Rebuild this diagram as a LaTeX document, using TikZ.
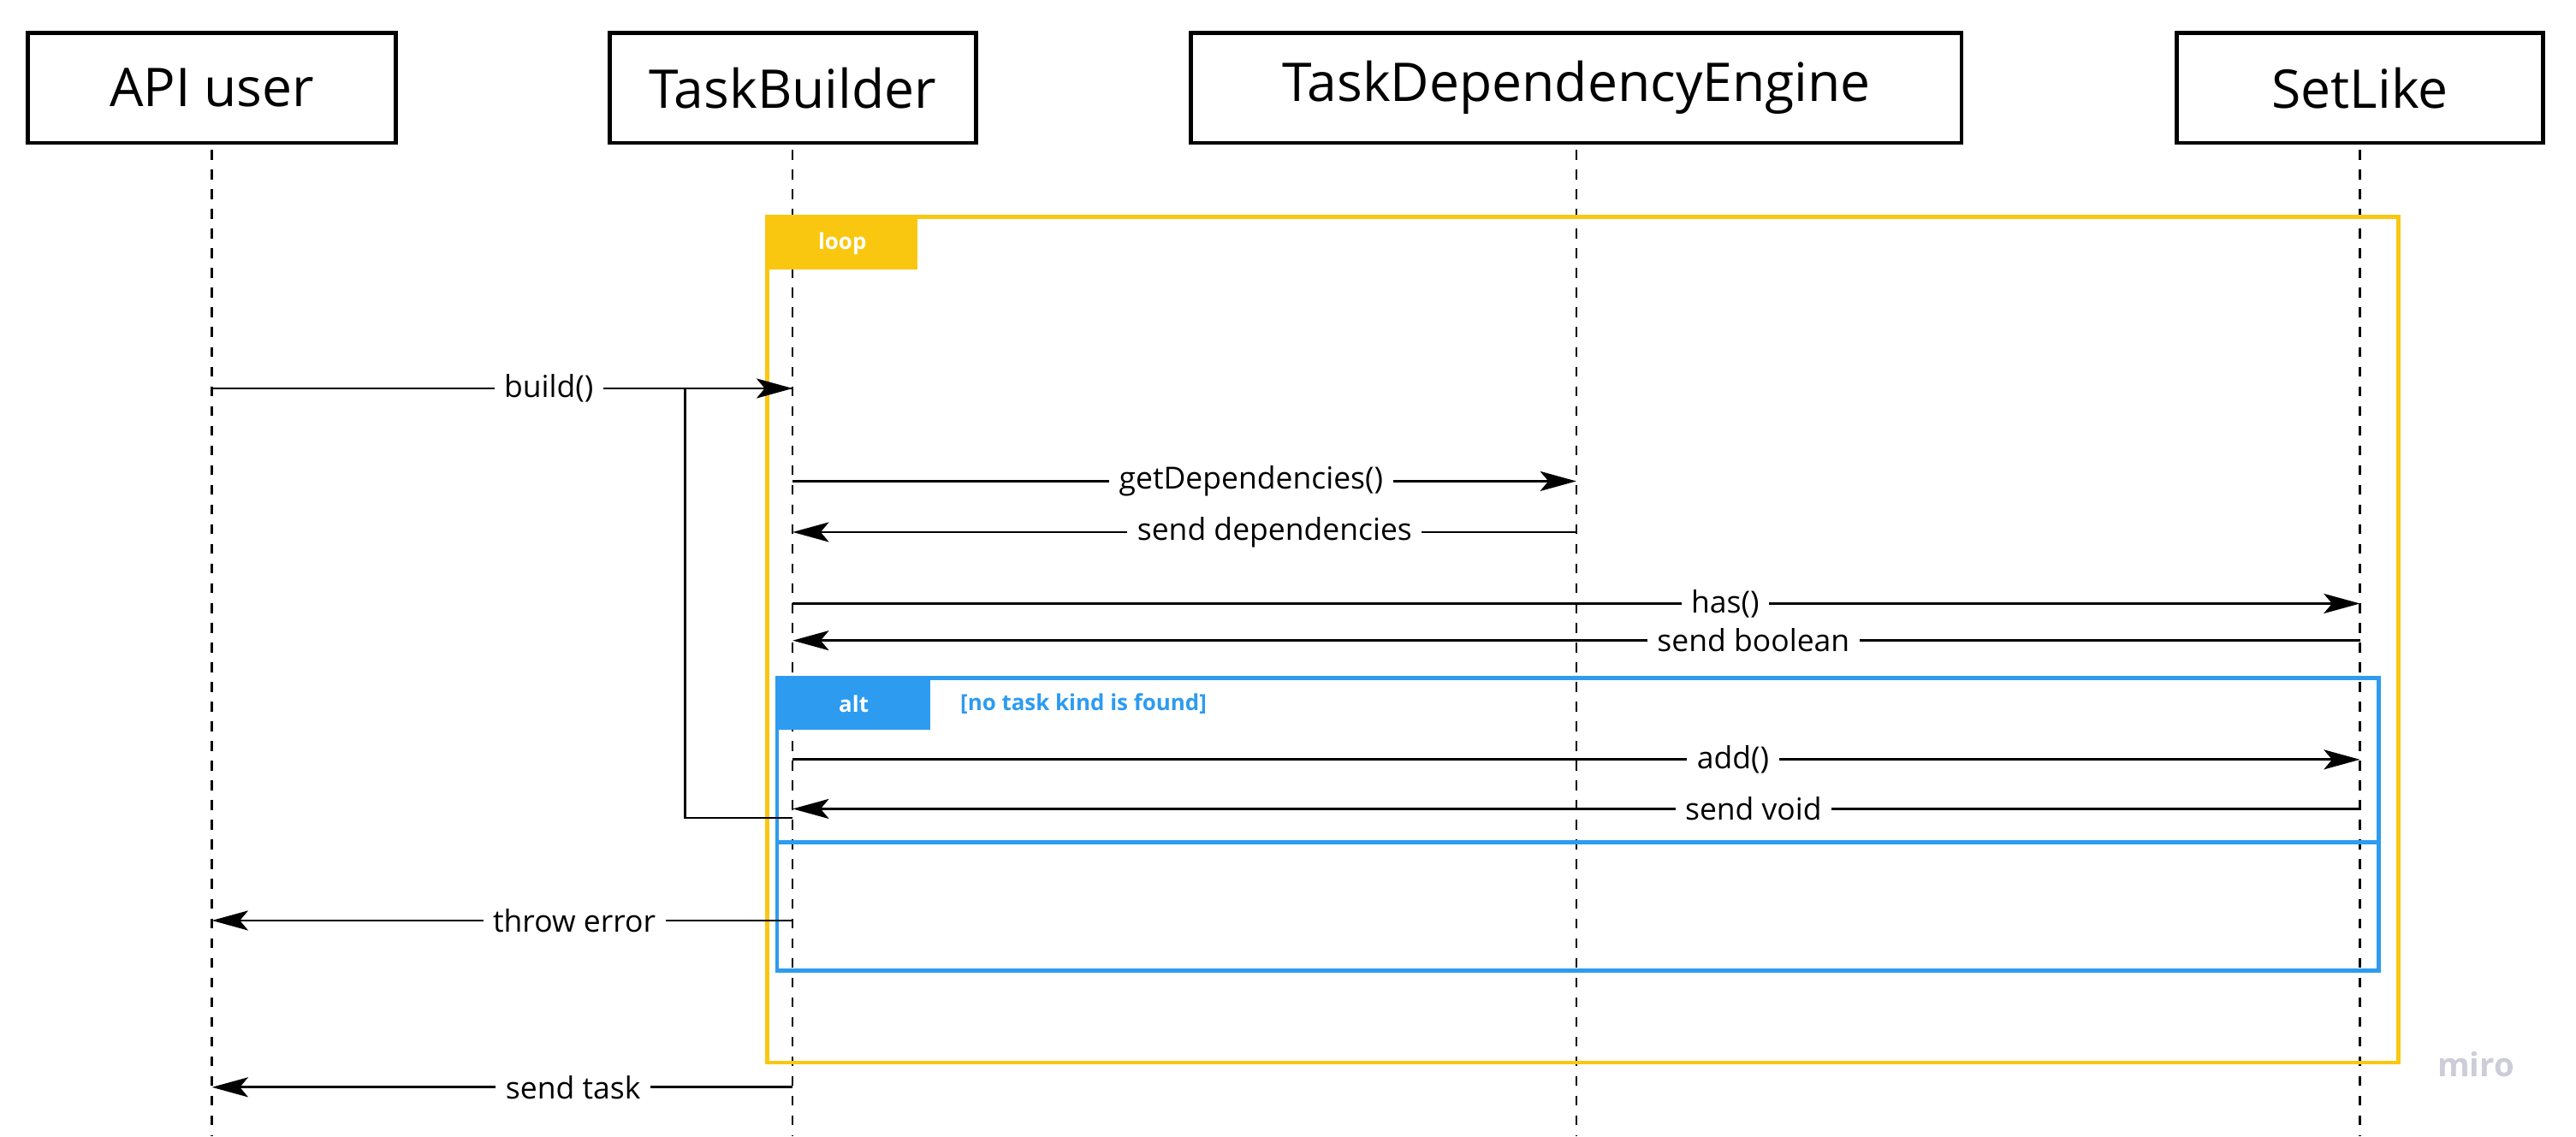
\documentclass[tikz,border=0pt]{standalone}
\usepackage{fontspec}
\setmainfont{Open Sans}
\usepackage{xcolor}
\usetikzlibrary{positioning,arrows.meta}
\definecolor{loopyellow}{HTML}{FAC710}
\definecolor{altblue}{HTML}{2D9BF0}
\definecolor{mirogray}{HTML}{CDCCD9}

\tikzset{
  actor/.style={draw, line width=2.5pt, minimum height=67pt, inner sep=0pt, font=\fontsize{32.5}{38}\selectfont},
  lifeline/.style={line width=1.2pt, dash pattern=on 6pt off 6pt},
  msg/.style={line width=1.5pt, -{Stealth[length=22pt,width=12pt,inset=5pt]}},
  lbl/.style={fill=white, inner xsep=6pt, inner ysep=3pt, font=\fontsize{18.5}{22}\selectfont},
  frame/.style={draw=#1, line width=2.5pt, inner sep=0pt, outer sep=0pt},
  tag/.style={fill=#1, text=white, anchor=north west, inner sep=0pt, font=\fontsize{13.5}{16}\selectfont\bfseries},
}

\begin{document}
\begin{tikzpicture}[x=1pt, y=-1pt]
        \useasboundingbox (0,0) rectangle (1568,692);
        \node (user) [actor, minimum width=224pt] at (129,53.5) {API user};
        \node (builder) [actor, minimum width=223pt] at (482.5,53.5) {TaskBuilder};
        \node (engine) [actor, minimum width=469pt] at (959.5,53.5) {TaskDependencyEngine};
        \node (setlike) [actor, minimum width=223pt] at (1436.5,53.5) {SetLike};
        \coordinate (bottom) at (0,692);
        \foreach \p in {user,builder,engine,setlike}
            \draw[lifeline] ([yshift=-3pt]\p.south) -- (\p |- bottom);
        % frames
        \node (loop) [frame=loopyellow, minimum width=993pt, minimum height=515pt] at (963.5,389.5) {};
        \node (looptag) [tag=loopyellow, minimum width=91pt, minimum height=32pt] at (loop.north west) {loop};
        \node (alt) [frame=altblue, minimum width=975pt, minimum height=178pt] at (960.5,502) {};
        \node (alttag) [tag=altblue, minimum width=93pt, minimum height=31pt] at (alt.north west) {alt};
        \node (guard) [right = 18pt of alttag, inner sep=0pt, text=altblue, font=\fontsize{13.5}{16}\selectfont\bfseries] {[no task kind is found]};
        \coordinate (sep) at (0,513);
        \draw[altblue, line width=2.5pt] (alt.west |- sep) -- (alt.east |- sep);
        % messages
        \coordinate (m1) at (0,236.5);
        \coordinate (m2) at (0,293);
        \coordinate (m3) at (0,324);
        \coordinate (m4) at (0,367.5);
        \coordinate (m5) at (0,390);
        \coordinate (m6) at (0,462.5);
        \coordinate (m7) at (0,492.5);
        \coordinate (m8) at (0,560.5);
        \coordinate (m9) at (0,662);
        \coordinate (back) at (417,498);
        \draw[line width=1.5pt] (builder |- back) -- (back) |- (builder |- m1);
        \draw[msg] (user |- m1) -- node[lbl, pos=.58] {build()} (builder |- m1);
        \draw[msg] (builder |- m2) -- node[lbl, pos=.585] {getDependencies()} (engine |- m2);
        \draw[msg] (engine |- m3) -- node[lbl, pos=.385] {send dependencies} (builder |- m3);
        \draw[msg] (builder |- m4) -- node[lbl, pos=.595] {has()} (setlike |- m4);
        \draw[msg] (setlike |- m5) -- node[lbl, pos=.387] {send boolean} (builder |- m5);
        \draw[msg] (builder |- m6) -- node[lbl, pos=.6] {add()} (setlike |- m6);
        \draw[msg] (setlike |- m7) -- node[lbl, pos=.387] {send void} (builder |- m7);
        \draw[msg] (builder |- m8) -- node[lbl, pos=.376] {throw error} (user |- m8);
        \draw[msg] (builder |- m9) -- node[lbl, pos=.378] {send task} (user |- m9);
        \node (miro) [text=mirogray, font=\fontsize{20}{24}\selectfont\bfseries] at (1507,648) {miro};
    \end{tikzpicture}
\end{document}
